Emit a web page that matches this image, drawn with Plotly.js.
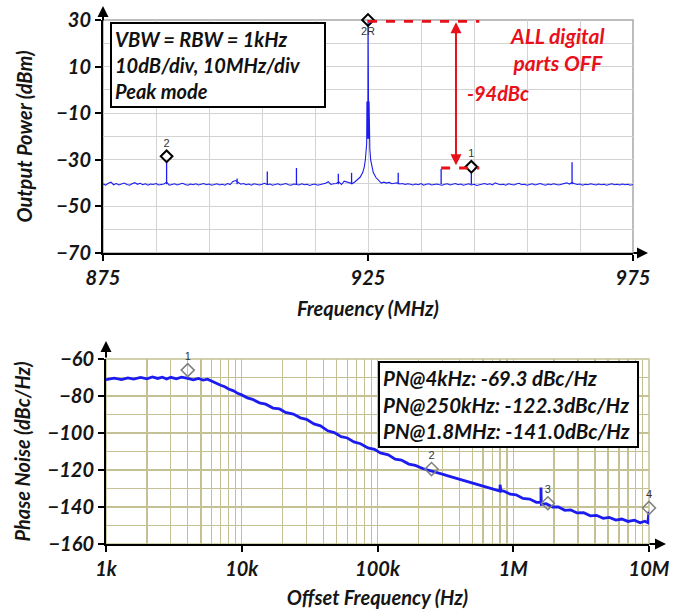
<!DOCTYPE html>
<html>
<head>
<meta charset="utf-8">
<script src="https://cdn.plot.ly/plotly-3.0.1.min.js"></script>
<style>html,body{margin:0;padding:0;background:#fff;}#chart{width:685px;height:613px;}</style>
</head>
<body>
<div id="chart"></div>
<script>
// ---------- Spectrum (top) ----------
const sweepStep = 0.5;           // MHz between sweep points
const floorLeftStart = 875;      // MHz
const floorLeftP = [
 -40.3,-40.9,-40.1,-39.6,-40.7,-40.2,-40.8,-40.4,-40.0,-40.6,
 -40.9,-40.3,-39.8,-40.5,-40.1,-40.7,-40.3,-40.9,-40.4,-40.6,
 -40.2,-40.8,-40.5,-40.4,-39.6,-40.9,-40.6,-40.3,-40.8,-40.5,
 -40.1,-40.6,-40.9,-40.4,-40.7,-40.3,-40.8,-40.5,-40.2,-40.7,
 -40.4,-40.9,-40.6,-40.3,-40.8,-40.5,-40.9,-40.2,-40.6,-39.3,
 -38.9,-39.8,-40.5,-40.2,-40.7,-40.4,-40.9,-40.3,-40.6,-40.8,
 -40.5,-40.1,-40.7,-40.4,-40.9,-40.6,-40.3,-40.8,-40.5,-40.2,
 -40.7,-40.9,-40.4,-40.6,-40.8,-40.3,-40.7,-40.5,-41.0,-40.6,
 -40.4,-40.9,-40.7,-40.5,-40.1,-39.4,-40.6,-40.3,-40.2,-39.5,
 -40.6,-39.2,-39.6,-40.0
];
const carrierF = [922, 922.5, 923, 923.5, 924, 924.3, 924.5, 924.65, 924.75, 924.8, 924.86, 924.92, 924.97, 925, 925.03, 925.08, 925.14, 925.2, 925.25, 925.35, 925.5, 925.7, 926, 926.5, 927, 927.5];
const carrierP = [-40.2, -39.5, -38.6, -37.5, -35.5, -33.0, -30.0, -25.5, -23.0, -5, -21, -5, -21, 30, -21, -5, -21, -5, -23.0, -25.5, -30, -33, -35.5, -37.6, -38.9, -40.0];
const floorRightStart = 928;
const floorRightP = [
 -39.6,-40.0,-39.7,-40.3,-40.1,-39.9,-40.4,-40.2,-40.6,-40.3,
 -40.5,-40.8,-40.4,-40.7,-40.2,-40.9,-40.5,-40.3,-40.8,-40.6,
 -40.4,-40.7,-40.9,-40.5,-40.3,-40.8,-40.6,-40.2,-40.7,-40.4,
 -40.9,-40.6,-40.3,-40.8,-40.5,-41.0,-40.7,-40.4,-40.2,-40.6,
 -40.3,-40.8,-39.9,-40.4,-40.7,-40.5,-40.9,-40.3,-40.6,-40.8,
 -40.4,-40.1,-40.7,-40.5,-40.9,-40.6,-40.3,-40.8,-40.5,-40.2,
 -40.6,-40.9,-40.4,-40.7,-40.3,-40.6,-40.8,-40.5,-40.2,-39.9,
 -40.4,-39.8,-40.3,-40.6,-40.4,-40.9,-40.5,-40.7,-40.3,-40.6,
 -40.8,-40.4,-40.7,-40.5,-40.9,-40.6,-40.3,-40.7,-40.5,-40.8,
 -40.4,-40.7,-40.5,-40.9,-40.6
];
const spurF = [887, 900.3, 906, 911.5, 919.4, 921.9, 930.7, 938.8, 944.5, 963.5];
const spurP = [-31, -38, -35, -33.5, -36, -35.6, -35.6, -34, -35, -31];
const spurBase = -40.5;
const specMarkF = [887, 944.5, 925];
const specMarkP = [-28.5, -33, 30];
const specMarkLabel = ['2', '1', '2R'];

// ---------- Phase noise (bottom) ----------
const pnOffsetHz = [
 1000,1150,1300,1450,1600,1800,2000,2200,2400,2600,2800,3000,3300,3600,4000,4400,4800,5200,5600,6000,
 6500,7000,7500,8000,8700,9400,10000,11000,12000,13500,15000,17000,19000,21000,24000,27000,30000,34000,38000,43000,
 48000,54000,60000,67000,75000,85000,95000,105000,120000,135000,150000,170000,190000,215000,240000,270000,300000,340000,380000,430000,
 480000,540000,600000,670000,750000,800000,800000,810000,850000,950000,1050000,1180000,1320000,1480000,1600000,1600000,1610000,1750000,1950000,2150000,
 2400000,2650000,2950000,3300000,3700000,4100000,4600000,5100000,5700000,6300000,7000000,7800000,8600000,9300000,9800000,10000000
];
const pnLevel = [
 -71.2,-70.4,-71.1,-70.2,-70.9,-70.0,-70.7,-69.7,-70.5,-69.8,-70.8,-69.9,-70.7,-69.8,-70.5,-71.3,-70.5,-71.4,-70.9,-72.1,
 -73.1,-74.2,-75.0,-76.2,-77.2,-78.7,-79.4,-81.0,-81.8,-83.7,-84.4,-86.5,-87.0,-88.9,-89.8,-91.8,-92.6,-95.1,-96.1,-98.8,
 -99.8,-102.0,-102.7,-104.8,-105.8,-108.1,-108.8,-110.8,-111.8,-114.1,-114.6,-116.8,-117.5,-119.2,-120.1,-121.3,-122.2,-123.4,-124.4,-125.7,
 -126.6,-127.8,-128.7,-129.7,-130.5,-131.4,-128.0,-131.1,-131.4,-133.1,-133.4,-135.4,-135.7,-137.5,-137.4,-129.5,-138.6,-138.2,-140.0,-140.0,
 -141.8,-141.6,-143.2,-143.1,-144.8,-144.5,-146.1,-145.6,-147.1,-146.5,-147.8,-147.1,-148.5,-147.7,-148.5,-142.5
];
const pnMarkHz = [4000, 250000, 1800000, 10000000];
const pnMarkLevel = [-66, -119.5, -138, -140.5];
const pnMarkLabel = ['1', '2', '3', '4'];
const pnDecadeTicks = [1e3, 1e4, 1e5, 1e6, 1e7];
const pnDecadeText = ['1k', '10k', '100k', '1M', '10M'];

// ---------- build traces ----------
const specX = [], specY = [];
floorLeftP.forEach((p, i) => { specX.push(floorLeftStart + i * sweepStep); specY.push(p); });
carrierF.forEach((f, i) => { specX.push(f); specY.push(carrierP[i]); });
floorRightP.forEach((p, i) => { specX.push(floorRightStart + i * sweepStep); specY.push(p); });

const spurX = [], spurY = [];
spurF.forEach((f, i) => { spurX.push(f, f, null); spurY.push(spurBase, spurP[i], null); });

const pnMinor = [];
[1e3, 1e4, 1e5, 1e6].forEach(d => { for (let k = 2; k <= 9; k++) pnMinor.push(k * d); });

const blue = '#1c1cf0';
const red = '#e8101a';
const F = 'Lato, "Open Sans", sans-serif';
const bi = (size, color) => ({family: F, size: size, weight: 'bold', style: 'italic', color: color || '#151515'});

const traces = [
  {x: specX, y: specY, type: 'scatter', mode: 'lines', line: {color: blue, width: 1.1}, xaxis: 'x', yaxis: 'y', hoverinfo: 'skip'},
  {x: spurX, y: spurY, type: 'scatter', mode: 'lines', line: {color: blue, width: 1.3}, xaxis: 'x', yaxis: 'y', hoverinfo: 'skip'},
  {x: specMarkF, y: specMarkP, type: 'scatter', mode: 'markers+text', text: specMarkLabel,
   textposition: ['top center', 'top center', 'bottom center'], textfont: {family: 'Arial', size: 11, color: '#333'},
   marker: {symbol: 'diamond-open', size: 9, color: '#000', line: {width: 2}}, cliponaxis: false, xaxis: 'x', yaxis: 'y'},
  {x: pnOffsetHz, y: pnLevel, type: 'scatter', mode: 'lines', line: {color: blue, width: 2.8}, xaxis: 'x2', yaxis: 'y2', hoverinfo: 'skip'},
  {x: pnMarkHz, y: pnMarkLevel, type: 'scatter', mode: 'markers+text', text: pnMarkLabel, textposition: 'top center',
   textfont: {family: 'Arial', size: 11, color: '#333'},
   marker: {symbol: 'diamond-open', size: 10, color: '#808080', line: {width: 1.5}}, cliponaxis: false, xaxis: 'x2', yaxis: 'y2'}
];

const W = 685, H = 613;
const px = v => v / W, py = v => 1 - v / H;

const topGrid = '#d3d3d3';
const olive = '#c4c294';

const layout = {
  width: W, height: H, margin: {l: 0, r: 0, t: 0, b: 0},
  paper_bgcolor: '#fff', plot_bgcolor: '#fff', showlegend: false,
  xaxis: {
    domain: [px(103), px(633)], anchor: 'y', range: [875, 975], tick0: 875, dtick: 50,
    showline: true, linecolor: '#000', linewidth: 2, ticks: 'outside', ticklen: 6, tickwidth: 2, tickcolor: '#000',
    showgrid: true, gridcolor: topGrid, gridwidth: 1, zeroline: false,
    minor: {dtick: 10, tick0: 875, showgrid: true, gridcolor: topGrid, gridwidth: 1},
    tickfont: bi(20), title: {text: 'Frequency (MHz)', font: bi(20), standoff: 14}
  },
  yaxis: {
    domain: [py(253), py(20)], anchor: 'x', range: [-70, 30], tick0: -70, dtick: 20,
    showline: true, linecolor: '#000', linewidth: 2, ticks: 'outside', ticklen: 6, tickwidth: 2, tickcolor: '#000',
    showgrid: true, gridcolor: topGrid, gridwidth: 1, zeroline: false,
    minor: {dtick: 10, tick0: -70, showgrid: true, gridcolor: topGrid, gridwidth: 1},
    tickfont: bi(20), title: {text: 'Output Power (dBm)', font: bi(20), standoff: 18}
  },
  xaxis2: {
    domain: [px(106), px(649)], anchor: 'y2', type: 'log', range: [3, 7],
    tickmode: 'array', tickvals: pnDecadeTicks, ticktext: pnDecadeText,
    showline: true, linecolor: '#000', linewidth: 2, ticks: 'outside', ticklen: 6, tickwidth: 2, tickcolor: '#000',
    showgrid: true, gridcolor: olive, gridwidth: 1.3, zeroline: false,
    minor: {tickmode: 'array', tickvals: pnMinor, showgrid: true, gridcolor: olive, gridwidth: 1.3, ticks: ''},
    tickfont: bi(20), title: {text: 'Offset Frequency (Hz)', font: bi(20), standoff: 12}
  },
  yaxis2: {
    domain: [py(544), py(359)], anchor: 'x2', range: [-160, -60], tick0: -160, dtick: 20,
    showline: true, linecolor: '#000', linewidth: 2, ticks: 'outside', ticklen: 6, tickwidth: 2, tickcolor: '#000',
    showgrid: true, gridcolor: olive, gridwidth: 1.3, zeroline: false,
    minor: {dtick: 10, tick0: -160, showgrid: true, gridcolor: olive, gridwidth: 1.3},
    tickfont: bi(20), title: {text: 'Phase Noise (dBc/Hz)', font: bi(20), standoff: 12}
  },
  shapes: [
    {type: 'rect', xref: 'paper', yref: 'paper', x0: px(103), x1: px(633), y0: py(253), y1: py(20), line: {color: '#a8a8a8', width: 1.5}, layer: 'below'},
    {type: 'rect', xref: 'paper', yref: 'paper', x0: px(106), x1: px(649), y0: py(544), y1: py(359), line: {color: olive, width: 1.5}, layer: 'below'},
    {type: 'line', xref: 'x', yref: 'y', x0: 925, x1: 946, y0: 29.5, y1: 29.5, line: {color: red, width: 3, dash: 'dash'}},
    {type: 'line', xref: 'x', yref: 'y', x0: 938.8, x1: 946, y0: -33.5, y1: -33.5, line: {color: red, width: 3, dash: 'dash'}}
  ],
  annotations: [
    // axis arrows
    {xref: 'x', yref: 'paper', x: 875, y: py(6), ax: 0, ay: 16, showarrow: true, arrowhead: 2, arrowsize: 1.1, arrowwidth: 2, arrowcolor: '#000', text: ''},
    {xref: 'paper', yref: 'y', x: px(648), y: -70, ax: -16, ay: 0, showarrow: true, arrowhead: 2, arrowsize: 1.1, arrowwidth: 2, arrowcolor: '#000', text: ''},
    {xref: 'x2', yref: 'paper', x: 3, y: py(341), ax: 0, ay: 18, showarrow: true, arrowhead: 2, arrowsize: 1.1, arrowwidth: 2, arrowcolor: '#000', text: ''},
    {xref: 'paper', yref: 'y2', x: px(666), y: -160, ax: -18, ay: 0, showarrow: true, arrowhead: 2, arrowsize: 1.1, arrowwidth: 2, arrowcolor: '#000', text: ''},
    // -94dBc double arrow
    {xref: 'x', yref: 'y', axref: 'x', ayref: 'y', x: 941.6, y: 29, ax: 941.6, ay: -33, showarrow: true, arrowhead: 2, startarrowhead: 2, arrowside: 'end+start', arrowsize: 1.1, arrowwidth: 2, arrowcolor: red, text: ''},
    {xref: 'x', yref: 'y', x: 949.5, y: -1.5, text: '-94dBc', showarrow: false, font: bi(20, red)},
    {xref: 'x', yref: 'y', x: 960.7, y: 17.5, text: 'ALL digital<br>parts OFF', showarrow: false, font: bi(21, red)},
    // info boxes
    {xref: 'paper', yref: 'paper', x: px(110), y: py(22), xanchor: 'left', yanchor: 'top', align: 'left', showarrow: false,
     text: 'VBW = RBW = 1kHz<br>10dB/div, 10MHz/div&nbsp;&nbsp;&nbsp;&nbsp;&nbsp;<br>Peak mode', font: bi(20, '#111'),
     bordercolor: '#000', borderwidth: 2, borderpad: 3, bgcolor: '#fff'},
    {xref: 'paper', yref: 'paper', x: px(378), y: py(361), xanchor: 'left', yanchor: 'top', align: 'left', showarrow: false,
     text: 'PN@4kHz: -69.3 dBc/Hz<br>PN@250kHz: -122.3dBc/Hz&nbsp;<br>PN@1.8MHz: -141.0dBc/Hz', font: bi(20.5, '#111'),
     bordercolor: '#000', borderwidth: 2, borderpad: 3, bgcolor: '#fff'}
  ]
};

Plotly.newPlot('chart', traces, layout, {staticPlot: true, displayModeBar: false});
</script>
</body>
</html>
